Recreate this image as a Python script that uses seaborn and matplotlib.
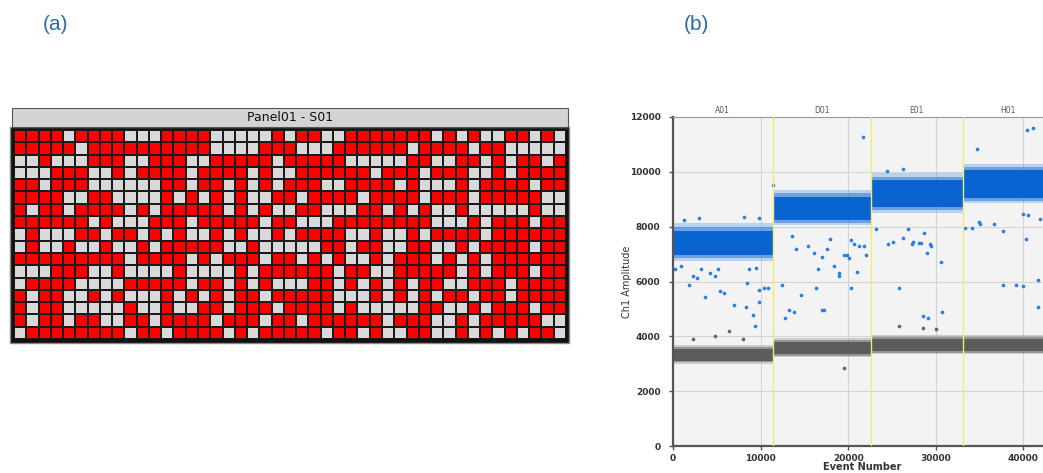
import numpy as np
import matplotlib
matplotlib.use("Agg")
import matplotlib.pyplot as plt
import seaborn as sns
from matplotlib.colors import ListedColormap
from matplotlib.patches import Rectangle

# ---------------- data ----------------
# panel (a): chip cells, R = positive (red), G = negative (grey)
grid_rows = [
    "RRRRGRRRRGG" + "GRRRRGGGGGR" + "GRRGGRRRRRR" + "RGRGRGGRRGRG",
    "RRRRRGRRRRR" + "RRRRRGGGGRR" + "RGGGRRRRRRG" + "RRRRGRRGGGGG",
    "GGRGGGRRRGG" + "RRRGGRRRRRG" + "RRRRRGGGGGR" + "RGGRRGRGRRGR",
    "GGGRRRGGRGR" + "RRRGRRRRGRG" + "GRRRRRRGRRR" + "GRRRGGRGRRRR",
    "RRGRRRGGGGG" + "GRRGRRGRGRG" + "RRRGGRRRRGR" + "GGGRGRRRRGRR",
    "RRRRGGRRGGG" + "GRGRGRGRGGR" + "RGRRRRGRRRR" + "GRRRGRRRRRGG",
    "RGRRGRRRRGR" + "GRRRRRGRGRG" + "GRRGGGRRGRG" + "RGGRGGGGGRGG",
    "RRRRRRGRGGG" + "RRRGRRRRRGR" + "RGGGRRRRRRR" + "RGGGRGRRRGRR",
    "GRGGGRRGRRG" + "RGRGGRGRGGR" + "GRRRRGGRGGR" + "GRRRRGRRRRRR",
    "GRGGRGGRGGR" + "GRRRRRGGRGG" + "GGGRRGRRGGR" + "RGGRGRRRRGRR",
    "RRRRRRRRRGR" + "RRRGRGRRRGR" + "RGRGRGGRGRR" + "RGRGRGRRRRRR",
    "GGGRRRGGRGG" + "GGRGGGGRGRR" + "RRRRGRRGGRR" + "RRRGRGRRRGRR",
    "GRRRRGGGGRR" + "RRRGRRGRGRG" + "GGRRGRGRGRG" + "RRGGRRRGRRRR",
    "RGRRGGRGRGG" + "GRGRGRGRRGR" + "RRRRGGGRGRG" + "RGRRGRRGRRRR",
    "RGRRGGGGGRG" + "GRGGRRGRRRG" + "RRRRGRGGGGG" + "RRGGRGRRRGRR",
    "RGRRGRRGGRR" + "GRRRRGRRRGR" + "RGRRRRRRGRR" + "RGGRGRRRRRGG",
    "GRRRRRRRRGR" + "RGRRRRGRGRR" + "RRRGRRGRGGR" + "RGGRGRGRGRRG",
]
panel_title = "Panel01 - S01"

# panel (b): wells and droplet bands (Ch1 amplitude)
wells = ["A01", "D01", "E01", "H01"]
well_start = [0, 11390, 22630, 33070]
well_end = [11390, 22630, 33070, 43500]
pos_core_lo = [6950, 8250, 8700, 9050]
pos_core_hi = [7850, 9100, 9700, 10050]
pos_fuzz_lo = [6750, 8050, 8500, 8850]
pos_fuzz_hi = [8150, 9350, 9950, 10300]
neg_core_lo = [3100, 3350, 3450, 3450]
neg_core_hi = [3550, 3800, 3900, 3900]
neg_fuzz_lo = [3000, 3250, 3350, 3350]
neg_fuzz_hi = [3700, 3950, 4050, 4050]

# scattered positive droplets (event number, amplitude)
out_pos_x = [270, 960, 1794, 2301, 2758, 3253, 3710, 4206, 4776, 5157, 5348, 5805,
             6947, 8318, 8471, 9080, 9347, 9804, 9804, 10375, 10870, 8700, 9500,
             1200, 3000, 8100, 9800, 11470,
             12495, 12800, 13220, 13867, 13600, 14057, 14628, 15467, 16076, 16343,
             16533, 16990, 17000, 17200, 17600, 17960, 18400, 18910, 18910, 19500,
             19900, 20150, 20300, 20700, 21200, 21800, 21000, 22050, 21650, 20300,
             23130, 24580, 25150, 25840, 26300, 26790, 27250, 27440, 28100, 28300,
             28650, 29030, 29340, 29500, 30560, 30680, 28500, 29080, 26300, 24390,
             33300, 34100, 34900, 35000, 36600, 37700, 37700, 39150, 39980, 40360,
             40430, 41110, 41650, 41650, 41950, 40000, 40500, 34670]
out_pos_y = [6439, 6561, 5866, 6195, 6110, 6439, 5439, 6317, 6195, 6439, 5646, 5585,
             5158, 5073, 5951, 4793, 4366, 5244, 5707, 5768, 5768, 6460, 6480,
             8250, 8300, 8350, 8300, 9510,
             5890, 4671, 4951, 4890, 7659, 7171, 5524, 7293, 7049, 5768,
             6439, 6890, 4951, 4951, 7171, 7537, 6561, 6317, 6195, 6963,
             6963, 6841, 7500, 7370, 7310, 7290, 6354, 6963, 11256, 5780,
             7902, 7370, 7450, 5768, 7600, 7902, 7370, 7450, 7400, 7420,
             7780, 7050, 7350, 7300, 6710, 4890, 4750, 4670, 10098, 10040,
             7960, 7960, 8160, 8100, 8100, 7840, 5890, 5890, 5830, 7550,
             11540, 11600, 6060, 5080, 8270, 8460, 8440, 10829]

# scattered negative droplets
out_neg_x = [2263, 4776, 6414, 7937, 19580, 25840, 28500, 30000]
out_neg_y = [3915, 4024, 4183, 3915, 2829, 4380, 4300, 4250]

# ---------------- figure ----------------
W, H = 1043, 473
fig = plt.figure(figsize=(W / 100, H / 100), dpi=100)
sns.set_style("white")
plt.rcParams["font.family"] = ["DejaVu Sans"]


def fx(px):
    return px / W


def fy(py):
    return 1 - py / H


# ----- panel (a) -----
arr = np.array([[1 if c == "R" else 0 for c in row] for row in grid_rows])

fig.add_artist(Rectangle((fx(10), fy(343)), fx(569) - fx(10), fy(127) - fy(343),
                         transform=fig.transFigure, facecolor="#111111",
                         edgecolor="#888888", lw=1.0, zorder=-1))
ax_a = fig.add_axes([fx(14), fy(339), fx(566) - fx(14), fy(130) - fy(339)])
sns.heatmap(arr, ax=ax_a, cmap=ListedColormap(["#d9d9d9", "#ff0000"]), cbar=False,
            linewidths=1.1, linecolor="#1a1a1a", xticklabels=False,
            yticklabels=False, vmin=0, vmax=1)
fig.add_artist(Rectangle((fx(12), fy(127)), fx(568) - fx(12), fy(108) - fy(127),
                         transform=fig.transFigure, facecolor="#d4d4d4",
                         edgecolor="#555555", lw=0.8))
fig.text(fx(290), fy(117.5), panel_title, ha="center", va="center", fontsize=9,
         color="#111111")

# ----- panel (b) -----
xmax = 42250
ax_b = fig.add_axes([fx(673), fy(446), fx(1043) - fx(673), fy(117) - fy(446)])
ax_b.set_facecolor("#f3f3f3")
ax_b.set_xlim(0, xmax)
ax_b.set_ylim(0, 12000)
ax_b.set_xticks([0, 10000, 20000, 30000, 40000])
ax_b.set_yticks(list(range(0, 12001, 2000)))
ax_b.grid(True, color="#d4d4d4", lw=0.8)
ax_b.set_axisbelow(True)

blue = "#0964d2"
grey = "#5c5c5c"
for i in range(len(wells)):
    xs = [well_start[i], well_end[i]]
    ax_b.fill_between(xs, pos_fuzz_lo[i], pos_fuzz_hi[i], color="#3a88e4", alpha=0.3, lw=0)
    ax_b.fill_between(xs, (pos_fuzz_lo[i] + pos_core_lo[i]) / 2,
                      (pos_fuzz_hi[i] + pos_core_hi[i]) / 2,
                      color="#2a7add", alpha=0.55, lw=0)
    ax_b.fill_between(xs, pos_core_lo[i], pos_core_hi[i], color=blue, lw=0)
    ax_b.fill_between(xs, neg_fuzz_lo[i], neg_fuzz_hi[i], color="#777777", alpha=0.3, lw=0)
    ax_b.fill_between(xs, (neg_fuzz_lo[i] + neg_core_lo[i]) / 2,
                      (neg_fuzz_hi[i] + neg_core_hi[i]) / 2,
                      color="#666666", alpha=0.55, lw=0)
    ax_b.fill_between(xs, neg_core_lo[i], neg_core_hi[i], color=grey, lw=0)

sns.scatterplot(x=out_pos_x, y=out_pos_y, ax=ax_b, color="#2b7fe3", s=7, linewidth=0)
sns.scatterplot(x=out_neg_x, y=out_neg_y, ax=ax_b, color="#666666", s=7, linewidth=0)

for i in range(1, len(wells)):
    ax_b.axvline(well_start[i], color="#f0ec70", lw=1.0, zorder=3)

for i, w in enumerate(wells):
    ax_b.text((well_start[i] + well_end[i]) / 2, 12080, w, ha="center", va="bottom",
              fontsize=5.5, color="#555555", clip_on=False)

for side in ["left", "bottom"]:
    ax_b.spines[side].set_color("#555555")
    ax_b.spines[side].set_linewidth(1.6)
ax_b.spines["top"].set_color("#999999")
ax_b.spines["top"].set_linewidth(0.8)
ax_b.spines["right"].set_visible(False)
ax_b.tick_params(axis="both", labelsize=6.5, labelcolor="#333333", length=3,
                 color="#555555", width=1, direction="out",
                 left=True, bottom=True)
ax_b.tick_params(axis="y", pad=6)
ax_b.tick_params(axis="x", pad=2.5)
for lab in ax_b.get_xticklabels() + ax_b.get_yticklabels():
    lab.set_fontweight("bold")
ax_b.set_xlabel("")
ax_b.set_ylabel("Ch1 Amplitude", fontsize=7, color="#333333")
ax_b.yaxis.set_label_coords((632 - 673) / 370, 0.5)
fig.text(fx(862), fy(467), "Event Number", ha="center", va="center", fontsize=7,
         color="#333333", fontweight="bold")

# panel labels
for txt, x in [("(a)", 56), ("(b)", 696)]:
    fig.text(fx(x), fy(25), txt, ha="center", va="center", fontsize=15,
             color="#2f6aa8", family=["Liberation Sans Narrow", "Liberation Sans", "DejaVu Sans"])

fig.savefig("out.png", dpi=100)
